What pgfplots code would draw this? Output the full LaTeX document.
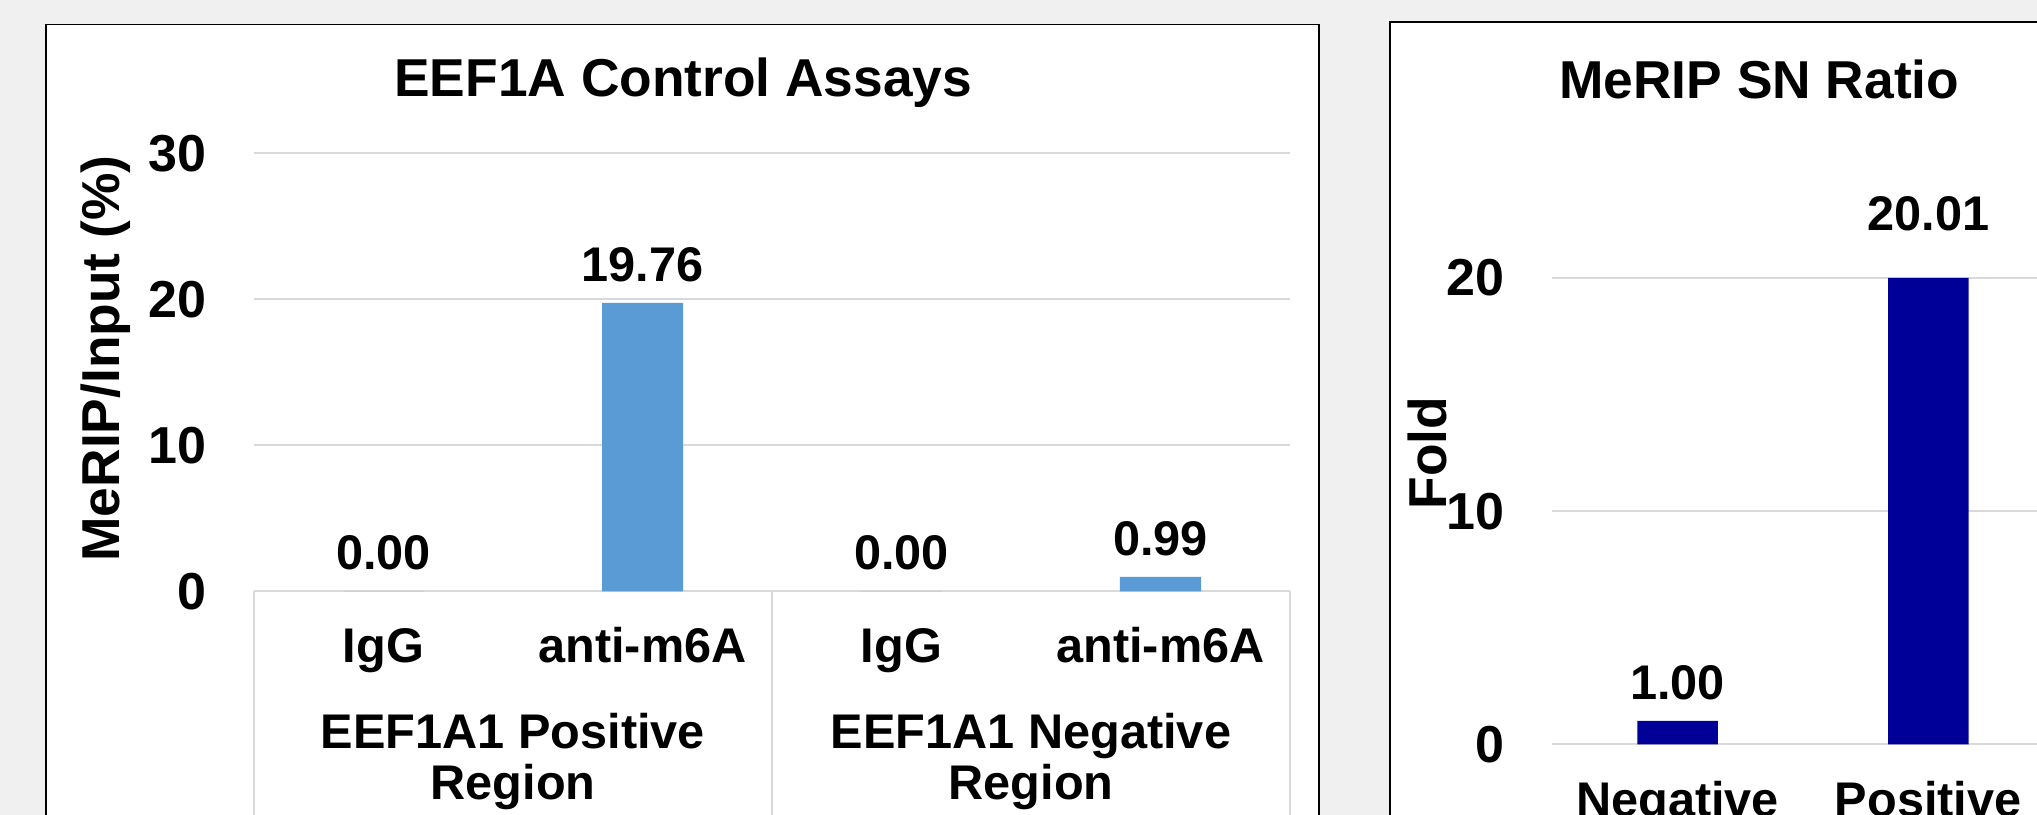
\documentclass[border=0pt]{standalone}
\usepackage{fontspec}
\setmainfont{Liberation Sans}
\usepackage{pgfplots}
\pgfplotsset{compat=1.18}
\usepackage{pgfplotstable}
\definecolor{bgc}{HTML}{F0F0F0}
\definecolor{gridc}{HTML}{D9D9D9}
\definecolor{lblue}{HTML}{5B9BD5}
\definecolor{navy}{RGB}{0,0,153}
\newcommand\fA{\fontsize{16}{19.2}\selectfont\bfseries}
\newcommand\fT{\fontsize{15.6}{18.7}\selectfont\bfseries}
\newcommand\fB{\fontsize{14.6}{17.5}\selectfont\bfseries}

\pgfplotstableread{
x y dy
0 0 6.4
1 19.76 6.3
2 0 6.4
3 0.99 6.4
}\leftdata
\pgfplotstableread{
x y dy
0 1.00 6.5
1 20.01 14.3
}\rightdata

\pgfplotsset{
 panel/.style={
  scale only axis, anchor=south west, ybar, clip=false,
  axis line style={draw=none}, major tick style={draw=none}, minor tick style={draw=none},
  ymajorgrids, grid style={gridc, line width=0.55pt},
  ymin=0,
  /pgf/number format/assume math mode=true,
  yticklabel style={font=\fT, anchor=east, inner sep=0pt, xshift=-14.1pt},
  xticklabel style={font=\fB, anchor=base, inner sep=0pt},
  nodes near coords={\pgfmathprintnumber[fixed,fixed zerofill,precision=2]{\pgfplotspointmeta}},
  point meta=y,
  visualization depends on={\thisrow{dy}\as\dy},
  nodes near coords style={font=\fB, anchor=base, inner sep=0pt, yshift=\dy pt, text=black},
 }
}

\begin{document}
\begin{tikzpicture}
\useasboundingbox (0,0) rectangle (611.1pt,244.2pt);
\clip (0,0) rectangle (611.1pt,244.2pt);
\fill[bgc] (-1pt,-1pt) rectangle (612pt,245pt);
\draw[line width=0.5pt, fill=white] (13.71pt,-5pt) rectangle (395.79pt,236.85pt);
\draw[line width=0.5pt, fill=white] (417pt,-5pt) rectangle (660pt,237.51pt);

% titles and axis labels
\node[font=\fA, anchor=base, inner sep=0pt] at (205pt,215.19pt) {EEF1A Control Assays};
\node[font=\fA, anchor=base, inner sep=0pt, rotate=90] at (35.7pt,136.65pt) {MeRIP/Input (\%)};
\node[font=\fA, anchor=base, inner sep=0pt] at (527.8pt,214.5pt) {MeRIP SN Ratio};
\node[font=\fA, anchor=base, inner sep=0pt, rotate=90] at (433.8pt,108.3pt) {Fold};

\begin{axis}[panel,
  at={(76.2pt,66.81pt)}, width=310.8pt, height=131.4pt,
  xmin=-0.5, xmax=3.5, ymax=30, ytick={0,10,20,30},
  xtick={0,1,2,3}, xticklabels={IgG,anti-m6A,IgG,anti-m6A},
  xticklabel style={yshift=-17.0pt},
  bar width=24.3pt]
\addplot[fill=lblue, draw=none] table[x=x,y=y] {\leftdata};
\draw[gridc, line width=0.55pt] (axis cs:-0.5,0) -- ++(0pt,-90pt);
\draw[gridc, line width=0.55pt] (axis cs:1.5,0) -- ++(0pt,-90pt);
\draw[gridc, line width=0.55pt] (axis cs:3.5,0) -- ++(0pt,-90pt);
\node[font=\fB, anchor=base, inner sep=0pt] at (axis cs:0.5,0) [yshift=-47.1pt] {EEF1A1 Positive};
\node[font=\fB, anchor=base, inner sep=0pt] at (axis cs:0.5,0) [yshift=-62.6pt] {Region};
\node[font=\fB, anchor=base, inner sep=0pt] at (axis cs:2.5,0) [yshift=-47.1pt] {EEF1A1 Negative};
\node[font=\fB, anchor=base, inner sep=0pt] at (axis cs:2.5,0) [yshift=-62.6pt] {Region};
\end{axis}

\begin{axis}[panel,
  at={(465.69pt,20.91pt)}, width=225.6pt, height=174.86pt,
  xmin=-0.5, xmax=2.5, ymax=25, ytick={0,10,20},
  xtick={0,1}, xticklabels={Negative,Positive},
  xticklabel style={yshift=-17.4pt},
  bar width=24.15pt]
\addplot[fill=navy, draw=none] table[x=x,y=y] {\rightdata};
\end{axis}
\end{tikzpicture}
\end{document}
